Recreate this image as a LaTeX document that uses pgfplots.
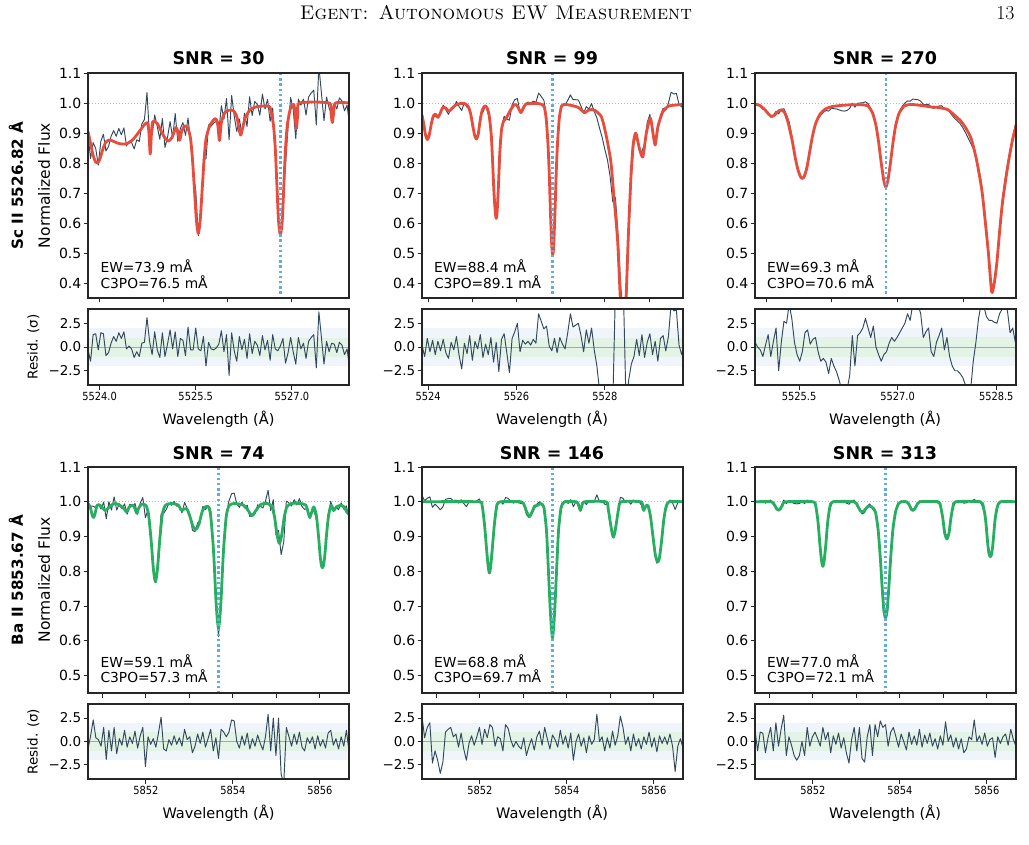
\documentclass[border=0pt]{standalone}
\usepackage{fontspec}
\usepackage{pgfplots}
\usepackage{pgfplotstable}
\pgfplotsset{compat=1.18}
\newfontfamily\dv{DejaVu Sans}
\newfontfamily\dvc[FakeStretch=0.88]{DejaVu Sans}
\definecolor{obs}{HTML}{34495E}
\definecolor{fitr}{HTML}{E74C3C}
\definecolor{fitg}{HTML}{27AE60}
\definecolor{lineb}{HTML}{5DADE2}
\definecolor{bandg}{HTML}{E3F4E6}
\definecolor{bandb}{HTML}{EFF5FB}

% ---------------- Panel A (Sc II, SNR 30) ----------------
\pgfplotstableread{
x m
5523.82 0.905
5523.86 0.865
5523.90 0.825
5523.94 0.803
5523.97 0.800
5524.00 0.810
5524.05 0.845
5524.10 0.870
5524.16 0.877
5524.24 0.870
5524.32 0.864
5524.42 0.864
5524.52 0.878
5524.62 0.905
5524.70 0.928
5524.75 0.934
5524.77 0.900
5524.79 0.830
5524.81 0.900
5524.83 0.938
5524.90 0.932
5525.00 0.890
5525.07 0.873
5525.13 0.885
5525.19 0.918
5525.22 0.905
5525.25 0.876
5525.28 0.905
5525.33 0.924
5525.38 0.915
5525.42 0.880
5525.45 0.810
5525.48 0.710
5525.51 0.610
5525.54 0.565
5525.57 0.610
5525.60 0.710
5525.63 0.810
5525.66 0.880
5525.72 0.925
5525.80 0.948
5525.84 0.935
5525.87 0.875
5525.90 0.935
5525.95 0.967
5526.02 0.976
5526.09 0.974
5526.14 0.955
5526.17 0.920
5526.20 0.893
5526.23 0.915
5526.28 0.955
5526.36 0.980
5526.46 0.988
5526.56 0.990
5526.62 0.989
5526.66 0.985
5526.71 0.930
5526.74 0.850
5526.765 0.730
5526.79 0.610
5526.82 0.560
5526.85 0.610
5526.875 0.730
5526.90 0.850
5526.93 0.930
5526.98 0.985
5527.03 0.995
5527.05 0.960
5527.07 0.915
5527.09 0.960
5527.12 1.000
5527.58 1.000
5527.61 0.965
5527.63 0.935
5527.65 0.965
5527.68 1.000
5527.90 1.000
}\tAm
\pgfplotstableread{
x o r
5523.82 .895 -0.3
5523.86 .815 -1.5
5523.90 .868 1.3
5523.94 .849 1.4
5523.98 .793 -0.3
5524.02 .872 1.5
5524.06 .896 1.4
5524.10 .840 -0.9
5524.14 .855 -0.6
5524.18 .889 0.4
5524.22 .908 1.1
5524.26 .889 0.6
5524.30 .915 1.5
5524.34 .894 0.9
5524.38 .917 1.6
5524.42 .857 -0.2
5524.46 .872 0.1
5524.50 .868 -0.2
5524.54 .847 -1.1
5524.58 .877 -0.5
5524.62 .872 -1.0
5524.66 .930 0.4
5524.70 .945 0.5
5524.74 1.035 3.1
5524.78 .885 0.6
5524.82 .894 -0.8
5524.86 .960 1.6
5524.90 .922 -0.3
5524.94 .879 -1.1
5524.98 .948 1.5
5525.02 .852 -1.0
5525.06 .885 0.3
5525.10 .938 1.8
5525.14 .883 -0.2
5525.18 .965 1.6
5525.22 .872 -1.0
5525.26 .915 0.9
5525.30 .935 0.7
5525.34 .892 -0.9
5525.38 .950 2.1
5525.42 .870 -0.3
5525.46 .767 -0.3
5525.50 .709 2.0
5525.54 .558 -0.2
5525.58 .630 -0.4
5525.62 .813 1.1
5525.66 .814 -2.0
5525.70 .927 0.5
5525.74 .923 -0.2
5525.78 .933 -0.3
5525.82 .939 -0.1
5525.86 .905 0.3
5525.90 .991 1.7
5525.94 .946 -0.5
5525.98 1.015 1.3
5526.02 .877 -3.0
5526.06 1.025 1.5
5526.10 .957 -0.4
5526.14 .905 -1.5
5526.18 .947 1.1
5526.22 .898 -0.3
5526.26 .966 0.8
5526.30 .922 -1.2
5526.34 1.021 1.4
5526.38 .958 -0.7
5526.42 1.005 0.6
5526.46 .995 0.2
5526.50 .959 -0.9
5526.54 1.030 1.2
5526.58 .980 -0.3
5526.62 1.012 0.7
5526.66 .939 -1.4
5526.70 .983 1.3
5526.74 .843 -0.2
5526.78 .647 -0.4
5526.82 .563 0.1
5526.86 .680 0.9
5526.90 .794 -1.7
5526.94 .920 -0.6
5526.98 1.018 1.0
5527.02 .978 -0.5
5527.06 .881 -1.8
5527.10 1.013 1.0
5527.14 .993 -0.2
5527.18 1.013 0.4
5527.22 .960 -1.2
5527.26 1.020 0.6
5527.30 1.033 1.0
5527.34 1.043 1.3
5527.38 .927 -2.2
5527.42 1.122 3.7
5527.46 1.033 1.0
5527.50 .941 -1.8
5527.54 1.020 0.6
5527.58 .983 -0.5
5527.62 .963 0.4
5527.66 1.000 0.3
5527.70 .980 -0.6
5527.74 1.017 0.5
5527.78 1.007 0.2
5527.82 .974 -0.8
5527.86 .993 -0.2
5527.90 .924 -2.3
}\tAo

% ---------------- Panel B (Sc II, SNR 99) ----------------
\pgfplotstableread{
x m
5523.86 .960
5523.90 .930
5523.94 .893
5523.98 .878
5524.02 .890
5524.07 .930
5524.12 .958
5524.17 .962
5524.22 .952
5524.27 .965
5524.33 .985
5524.40 .983
5524.47 .972
5524.54 .982
5524.62 .993
5524.72 .998
5524.82 .998
5524.90 .990
5524.96 .965
5525.01 .925
5525.05 .893
5525.09 .880
5525.13 .893
5525.17 .935
5525.22 .975
5525.28 .990
5525.33 .985
5525.38 .960
5525.43 .890
5525.46 .800
5525.49 .700
5525.52 .635
5525.54 .615
5525.56 .635
5525.59 .720
5525.62 .830
5525.66 .910
5525.71 .940
5525.77 .950
5525.84 .970
5525.90 .985
5525.96 .995
5526.02 .990
5526.07 .975
5526.10 .968
5526.14 .978
5526.20 .995
5526.30 .998
5526.50 .998
5526.62 .990
5526.67 .950
5526.71 .870
5526.74 .770
5526.77 .630
5526.80 .520
5526.82 .495
5526.84 .520
5526.87 .630
5526.90 .770
5526.93 .870
5526.97 .950
5527.02 .990
5527.10 .995
5527.20 .993
5527.30 .990
5527.40 .985
5527.48 .975
5527.55 .968
5527.62 .975
5527.70 .978
5527.78 .975
5527.86 .965
5527.92 .955
5527.98 .925
5528.06 .870
5528.14 .800
5528.21 .680
5528.29 .540
5528.35 .350
5528.41 .220
5528.48 .350
5528.53 .550
5528.59 .750
5528.64 .860
5528.70 .900
5528.78 .850
5528.86 .820
5528.94 .900
5529.03 .950
5529.09 .900
5529.14 .860
5529.20 .920
5529.31 .970
5529.45 .990
5529.77 .995
}\tBm
\pgfplotstableread{
x o r
5523.86 .962 0.2
5523.92 .900 -1.0
5523.98 .887 0.9
5524.04 .900 -0.5
5524.10 .955 0.7
5524.16 .954 -0.8
5524.22 .958 0.6
5524.28 .964 -0.4
5524.34 .993 0.8
5524.40 .977 -0.6
5524.46 .962 -1.2
5524.52 .984 0.5
5524.58 .985 -0.3
5524.64 1.005 1.1
5524.70 .988 -0.9
5524.76 .975 -2.3
5524.82 1.002 0.4
5524.88 .985 -0.7
5524.94 .984 1.2
5525.00 .918 -1.4
5525.06 .894 0.6
5525.12 .888 -0.2
5525.18 .956 1.3
5525.24 .969 -1.1
5525.30 .992 0.3
5525.36 .962 -0.8
5525.42 .915 1.0
5525.48 .717 -1.6
5525.54 .620 0.5
5525.60 .731 -2.6
5525.66 .918 0.8
5525.72 .956 1.4
5525.78 .946 -0.6
5525.84 .943 -2.7
5525.90 .994 0.9
5525.96 1.011 1.6
5526.02 1.015 2.5
5526.08 .968 -0.5
5526.14 .985 0.7
5526.20 .998 0.3
5526.26 1.003 0.6
5526.32 1.000 0.2
5526.38 1.006 0.8
5526.44 1.002 0.4
5526.50 1.033 3.5
5526.56 1.022 2.7
5526.62 1.009 1.9
5526.68 .952 2.2
5526.74 .771 0.1
5526.80 .516 -0.4
5526.86 .599 0.9
5526.92 .834 -0.6
5526.98 .970 1.0
5527.04 .994 0.3
5527.10 .993 -0.2
5527.16 1.009 1.5
5527.22 1.027 3.5
5527.28 1.011 2.1
5527.34 1.011 2.3
5527.40 1.010 2.5
5527.46 .990 1.2
5527.52 .966 -0.5
5527.58 .988 1.8
5527.64 .980 0.4
5527.70 .998 2.0
5527.76 .972 -0.3
5527.82 .950 -2.0
5527.88 .916 -4.6
5527.94 .885 -6
5528.00 .845 -6
5528.06 .810 -6
5528.12 .755 -6
5528.18 .670 -6
5528.24 .685 6
5528.30 .560 6
5528.36 .390 6
5528.42 .285 6
5528.48 .290 -6
5528.54 .555 -3.5
5528.60 .752 -1.8
5528.66 .865 -1.0
5528.72 .898 0.8
5528.78 .841 -0.9
5528.84 .838 1.3
5528.90 .864 -1.1
5528.96 .935 0.5
5529.02 .962 1.4
5529.08 .897 -0.8
5529.14 .866 0.6
5529.20 .905 -1.5
5529.26 .959 0.9
5529.32 .982 1.2
5529.38 .976 -0.4
5529.44 1.000 1.1
5529.50 1.036 4.5
5529.56 1.030 3.8
5529.62 1.032 3.9
5529.68 .996 0.2
5529.74 .987 -0.8
5529.80 .999 0.4
}\tBo

% ---------------- Panel C (Sc II, SNR 270) ----------------
\pgfplotstableread{
x m
5524.82 .997
5524.90 .992
5524.98 .978
5525.04 .962
5525.09 .955
5525.14 .962
5525.19 .974
5525.23 .977
5525.28 .968
5525.32 .945
5525.36 .910
5525.40 .870
5525.44 .820
5525.48 .780
5525.52 .755
5525.55 .749
5525.58 .755
5525.62 .785
5525.66 .835
5525.70 .885
5525.75 .930
5525.82 .963
5525.90 .980
5526.00 .988
5526.15 .992
5526.30 .994
5526.45 .994
5526.55 .990
5526.62 .965
5526.67 .925
5526.71 .870
5526.75 .800
5526.79 .740
5526.82 .720
5526.85 .740
5526.89 .800
5526.93 .870
5526.97 .925
5527.02 .965
5527.10 .990
5527.20 .995
5527.35 .992
5527.50 .987
5527.62 .985
5527.76 .978
5527.86 .960
5527.96 .940
5528.04 .915
5528.12 .880
5528.20 .810
5528.28 .710
5528.33 .610
5528.38 .500
5528.43 .370
5528.47 .400
5528.51 .470
5528.55 .570
5528.59 .660
5528.64 .740
5528.69 .810
5528.75 .880
5528.82 .940
}\tCm
\pgfplotstableread{
x o r
5524.83 .998 0.5
5524.87 .994 0.0
5524.91 .989 -0.3
5524.95 .979 -1.0
5524.99 .976 0.2
5525.03 .969 1.3
5525.07 .953 -1.0
5525.11 .960 0.6
5525.15 .972 2.0
5525.19 .964 -2.5
5525.23 .979 0.5
5525.27 .981 2.7
5525.31 .960 2.5
5525.35 .936 4.5
5525.39 .892 3.0
5525.43 .834 0.5
5525.47 .787 -0.8
5525.51 .754 -1.5
5525.55 .747 -0.5
5525.59 .768 1.5
5525.63 .804 1.8
5525.67 .848 0.3
5525.71 .898 0.8
5525.75 .934 1.0
5525.79 .948 -0.5
5525.83 .959 -1.5
5525.87 .969 -1.2
5525.91 .975 -1.6
5525.95 .973 -2.8
5525.99 .982 -1.2
5526.03 .981 -2.0
5526.07 .980 -2.6
5526.11 .977 -3.5
5526.15 .974 -4.5
5526.19 .973 -4.8
5526.23 .975 -4.5
5526.27 .982 -3.0
5526.31 .999 1.2
5526.35 .986 -2.0
5526.39 .999 1.2
5526.43 1.000 1.5
5526.47 1.001 2.0
5526.51 1.004 3.0
5526.55 .998 2.0
5526.59 .980 1.0
5526.63 .967 2.2
5526.67 .925 0.0
5526.71 .867 -0.8
5526.75 .794 -1.5
5526.79 .737 -0.8
5526.83 .723 -0.5
5526.87 .772 0.4
5526.91 .839 1.0
5526.95 .900 0.6
5526.99 .945 1.0
5527.03 .974 1.5
5527.07 .989 2.0
5527.11 1.000 2.5
5527.15 1.007 3.5
5527.19 1.006 2.8
5527.23 1.013 4.5
5527.27 1.012 4.6
5527.31 1.011 4.5
5527.35 1.006 3.5
5527.39 .995 1.0
5527.43 .995 1.6
5527.47 .996 2.0
5527.51 .985 -0.5
5527.55 .982 -1.0
5527.59 .987 0.5
5527.63 .990 1.2
5527.67 .991 2.0
5527.71 .979 -0.3
5527.75 .982 1.0
5527.79 .970 -1.0
5527.83 .958 -2.0
5527.87 .948 -2.5
5527.91 .940 -2.5
5527.95 .931 -2.8
5527.99 .918 -3.2
5528.03 .902 -4.0
5528.07 .884 -4.5
5528.11 .866 -4.5
5528.15 .848 -1.5
5528.19 .821 0.5
5528.23 .784 3.0
5528.27 .740 4.5
5528.31 .667 4.3
5528.35 .579 3.2
5528.39 .485 2.8
5528.43 .381 2.8
5528.47 .410 2.6
5528.51 .480 2.5
5528.55 .584 3.5
5528.59 .676 4.0
5528.63 .742 4.5
5528.67 .797 3.8
5528.71 .840 1.5
5528.75 .888 2.0
5528.79 .928 0.5
}\tCo

% ---------------- Panel D (Ba II, SNR 74) ----------------
\pgfplotstableread{
x m
5850.67 0.995
5850.72 0.985
5850.77 0.960
5850.80 0.955
5850.83 0.965
5850.88 0.990
5850.95 0.990
5851.02 0.980
5851.07 0.975
5851.12 0.980
5851.20 0.990
5851.30 0.995
5851.40 0.990
5851.50 0.980
5851.56 0.970
5851.62 0.985
5851.70 0.990
5851.75 0.980
5851.79 0.967
5851.83 0.980
5851.90 0.993
5852.00 0.990
5852.06 0.965
5852.11 0.905
5852.14 0.860
5852.17 0.810
5852.20 0.780
5852.22 0.770
5852.24 0.780
5852.27 0.810
5852.30 0.860
5852.33 0.905
5852.38 0.965
5852.45 0.990
5852.60 0.995
5852.75 0.990
5852.80 0.978
5852.84 0.975
5852.88 0.980
5852.95 0.978
5853.02 0.955
5853.08 0.930
5853.15 0.920
5853.22 0.935
5853.29 0.970
5853.36 0.985
5853.44 0.985
5853.49 0.960
5853.55 0.870
5853.58 0.800
5853.61 0.720
5853.64 0.665
5853.67 0.636
5853.70 0.665
5853.73 0.720
5853.76 0.800
5853.79 0.870
5853.85 0.960
5853.92 0.990
5854.05 0.995
5854.25 0.990
5854.35 0.975
5854.44 0.960
5854.53 0.975
5854.65 0.993
5854.80 0.995
5854.90 0.985
5854.96 0.955
5855.01 0.910
5855.04 0.890
5855.07 0.880
5855.10 0.890
5855.13 0.910
5855.18 0.955
5855.24 0.985
5855.35 0.995
5855.55 0.995
5855.68 0.990
5855.74 0.965
5855.77 0.955
5855.80 0.965
5855.86 0.985
5855.92 0.960
5855.97 0.900
5856.01 0.840
5856.04 0.815
5856.06 0.810
5856.08 0.815
5856.11 0.840
5856.15 0.900
5856.20 0.960
5856.26 0.990
5856.32 0.975
5856.38 0.985
5856.48 0.990
5856.56 0.985
5856.62 0.970
5856.67 0.965
}\tDm
\pgfplotstableread{
x o r
5850.67 .984 -0.8
5850.73 .988 0.6
5850.79 .987 2.3
5850.85 .983 0.4
5850.91 .993 0.2
5850.97 .979 -0.5
5851.03 .999 1.5
5851.09 .951 -1.9
5851.15 1.000 1.2
5851.21 .976 -1.0
5851.27 1.014 1.5
5851.33 .976 -1.3
5851.39 .994 0.3
5851.45 .980 -0.4
5851.51 .994 1.2
5851.57 .964 -0.6
5851.63 .993 0.5
5851.69 .987 -0.2
5851.75 .995 1.1
5851.81 .964 -0.7
5851.87 .996 0.6
5851.93 1.012 1.5
5851.99 .954 -2.7
5852.05 .977 0.5
5852.11 .901 -0.3
5852.17 .814 0.3
5852.23 .767 -0.6
5852.29 .857 0.9
5852.35 .965 2.6
5852.41 .967 -0.8
5852.47 .978 -1.0
5852.53 .996 0.2
5852.59 .990 -0.4
5852.65 1.001 0.6
5852.71 .987 -0.3
5852.77 .990 0.4
5852.83 .968 -0.5
5852.89 .998 1.3
5852.95 .981 0.2
5853.01 .965 0.5
5853.07 .918 -1.2
5853.13 .914 -0.5
5853.19 .939 0.8
5853.25 .947 -0.2
5853.31 .987 1.0
5853.37 .977 -0.6
5853.43 .989 0.3
5853.49 .978 1.3
5853.55 .857 -1.0
5853.61 .725 0.4
5853.67 .612 -1.8
5853.73 .738 1.3
5853.79 .884 1.0
5853.85 .967 0.5
5853.91 1.002 1.0
5853.97 1.023 2.3
5854.03 1.025 2.2
5854.09 .994 0.0
5854.15 .984 -0.7
5854.21 .999 0.6
5854.27 .982 -0.4
5854.33 .990 0.9
5854.39 .957 -0.8
5854.45 .965 0.3
5854.51 .965 -0.5
5854.57 .991 0.7
5854.63 .988 -0.2
5854.69 .982 -0.9
5854.75 1.002 0.5
5854.81 1.033 2.9
5854.87 .975 -1.0
5854.93 1.006 2.5
5854.99 .905 -1.5
5855.05 .918 2.5
5855.11 .848 -3.5
5855.17 .885 -4.5
5855.23 1.002 1.5
5855.29 .997 0.5
5855.35 .988 -0.5
5855.41 1.006 0.8
5855.47 .991 -0.3
5855.53 1.009 1.0
5855.59 .986 -0.6
5855.65 .978 -1.0
5855.71 .982 0.4
5855.77 .952 -0.2
5855.83 .982 0.5
5855.89 .964 -0.8
5855.95 .933 0.6
5856.01 .833 -0.5
5856.07 .815 0.2
5856.13 .861 -0.7
5856.19 .962 0.9
5856.25 1.001 1.2
5856.31 .972 -0.4
5856.37 .987 0.3
5856.43 .977 -0.8
5856.49 .997 0.5
5856.55 .979 -0.5
5856.61 .988 1.2
5856.67 .952 -1.0
}\tDo

% ---------------- Panel E (Ba II, SNR 146) ----------------
\pgfplotstableread{
x m
5850.67 1.000
5851.95 1.000
5852.05 0.990
5852.11 0.930
5852.15 0.870
5852.19 0.815
5852.22 0.795
5852.25 0.815
5852.29 0.870
5852.33 0.930
5852.39 0.990
5852.48 1.000
5852.95 1.000
5853.02 0.990
5853.08 0.970
5853.14 0.957
5853.20 0.970
5853.26 0.988
5853.33 0.990
5853.40 0.995
5853.47 0.985
5853.53 0.920
5853.57 0.820
5853.61 0.710
5853.64 0.645
5853.67 0.608
5853.70 0.645
5853.73 0.710
5853.77 0.820
5853.81 0.920
5853.87 0.985
5853.95 1.000
5854.22 1.000
5854.27 0.990
5854.31 0.975
5854.35 0.990
5854.40 1.000
5854.90 1.000
5854.95 0.980
5855.00 0.940
5855.04 0.910
5855.07 0.898
5855.10 0.910
5855.14 0.940
5855.19 0.980
5855.25 1.000
5855.70 1.000
5855.74 0.985
5855.77 0.975
5855.80 0.985
5855.86 0.990
5855.92 0.960
5855.98 0.900
5856.03 0.850
5856.07 0.830
5856.10 0.828
5856.13 0.840
5856.18 0.890
5856.23 0.950
5856.28 0.985
5856.35 1.000
5856.67 1.000
}\tEm
\pgfplotstableread{
x o r
5850.67 1.018 2.7
5850.73 1.003 0.4
5850.79 1.010 1.5
5850.85 1.014 2.0
5850.91 .984 -2.3
5850.97 .993 -1.0
5851.03 .986 -2.0
5851.09 .977 -3.4
5851.15 .985 -2.2
5851.21 1.007 1.0
5851.27 1.009 1.3
5851.33 1.010 1.5
5851.39 1.003 0.5
5851.45 1.005 0.8
5851.51 .996 -0.6
5851.57 1.006 0.9
5851.63 .995 -0.8
5851.69 .986 -2.0
5851.75 .999 -0.2
5851.81 1.004 0.6
5851.87 .997 -0.4
5851.93 1.003 0.5
5851.99 1.008 1.5
5852.05 .988 -0.3
5852.11 .939 1.3
5852.17 .843 0.4
5852.23 .812 1.8
5852.29 .880 1.5
5852.35 .947 -0.5
5852.41 .993 0.5
5852.47 1.002 0.3
5852.53 .993 -1.0
5852.59 1.012 1.8
5852.65 1.010 1.4
5852.71 1.001 0.2
5852.77 .996 -0.6
5852.83 1.000 0.0
5852.89 .997 -0.5
5852.95 .995 -0.8
5853.01 .994 0.4
5853.07 .963 -1.5
5853.13 .955 -0.5
5853.19 .970 0.3
5853.25 .979 -0.9
5853.31 .993 0.5
5853.37 1.000 1.1
5853.43 .989 -0.4
5853.49 .980 1.5
5853.55 .872 0.3
5853.61 .705 -0.8
5853.67 .613 0.7
5853.73 .711 0.2
5853.79 .866 -0.6
5853.85 .973 1.2
5853.91 .991 -0.3
5853.97 1.004 0.6
5854.03 .995 -0.7
5854.09 1.006 0.9
5854.15 .986 -2.0
5854.21 1.000 0.0
5854.27 .995 0.8
5854.33 .979 -0.5
5854.39 1.001 0.4
5854.45 .992 -1.2
5854.51 1.004 0.6
5854.57 .998 -0.3
5854.63 1.001 0.2
5854.69 1.020 2.9
5854.75 1.000 0.0
5854.81 1.003 0.5
5854.87 .993 -1.0
5854.93 .991 0.4
5854.99 .940 -0.7
5855.05 .909 1.1
5855.11 .912 -0.4
5855.17 .967 0.6
5855.23 1.013 2.7
5855.29 1.010 1.5
5855.35 .998 -0.3
5855.41 1.003 0.5
5855.47 .993 -1.0
5855.53 1.005 0.8
5855.59 .997 -0.5
5855.65 1.002 0.3
5855.71 .991 -0.8
5855.77 .981 0.5
5855.83 .986 -0.3
5855.89 .985 1.0
5855.95 .931 -0.6
5856.01 .868 0.4
5856.07 .823 -1.1
5856.13 .844 0.6
5856.19 .899 -0.2
5856.25 .968 0.5
5856.31 .990 -0.3
5856.37 1.005 0.8
5856.43 .997 -0.5
5856.49 .978 -3.2
5856.55 .997 -0.5
5856.61 1.002 0.3
5856.67 .995 -0.7
}\tEo

% ---------------- Panel F (Ba II, SNR 313) ----------------
\pgfplotstableread{
x m
5850.67 1.000
5851.05 1.000
5851.12 0.990
5851.17 0.979
5851.21 0.976
5851.25 0.979
5851.30 0.990
5851.38 1.000
5852.00 1.000
5852.07 0.985
5852.12 0.940
5852.16 0.880
5852.20 0.830
5852.23 0.814
5852.26 0.830
5852.30 0.880
5852.34 0.940
5852.39 0.985
5852.46 1.000
5852.95 1.000
5853.03 0.988
5853.09 0.974
5853.14 0.970
5853.19 0.976
5853.25 0.985
5853.30 0.988
5853.36 0.985
5853.44 0.970
5853.50 0.920
5853.55 0.840
5853.59 0.760
5853.63 0.690
5853.67 0.665
5853.71 0.690
5853.75 0.760
5853.79 0.840
5853.84 0.920
5853.90 0.970
5853.97 0.995
5854.05 1.000
5854.16 1.000
5854.22 0.990
5854.26 0.979
5854.30 0.975
5854.34 0.979
5854.39 0.990
5854.46 1.000
5854.88 1.000
5854.94 0.985
5854.99 0.950
5855.03 0.910
5855.08 0.893
5855.13 0.910
5855.17 0.950
5855.22 0.985
5855.28 1.000
5855.85 1.000
5855.92 0.985
5855.97 0.950
5856.02 0.880
5856.05 0.850
5856.08 0.842
5856.11 0.850
5856.14 0.880
5856.19 0.950
5856.24 0.985
5856.31 1.000
5856.67 1.000
}\tFm
\pgfplotstableread{
x o r
5850.67 1.004 1.2
5850.73 .997 -1.0
5850.79 1.003 1.0
5850.85 1.003 0.9
5850.91 .996 -1.2
5850.97 1.001 0.4
5851.03 1.005 1.5
5851.09 .991 -1.0
5851.15 .988 2.0
5851.21 .974 -0.5
5851.27 .987 1.3
5851.33 1.005 2.8
5851.39 .995 -1.5
5851.45 1.002 0.5
5851.51 .999 -0.4
5851.57 .995 -1.5
5851.63 .994 -2.0
5851.69 .995 -1.5
5851.75 1.000 0.0
5851.81 .995 -1.5
5851.87 1.005 1.5
5851.93 .998 -0.5
5851.99 1.002 0.5
5852.05 .993 1.0
5852.11 .951 0.3
5852.17 .863 -0.5
5852.23 .819 1.5
5852.29 .866 0.2
5852.35 .953 1.0
5852.41 .986 -1.2
5852.47 1.002 0.6
5852.53 .999 -0.3
5852.59 1.003 0.9
5852.65 .998 -0.7
5852.71 1.001 0.4
5852.77 .996 -1.2
5852.83 .993 -2.3
5852.89 1.001 0.2
5852.95 1.005 1.5
5853.01 .988 -1.0
5853.07 .983 1.5
5853.13 .965 -1.8
5853.19 .969 -2.2
5853.25 .987 0.5
5853.31 .994 1.8
5853.37 .979 -1.5
5853.43 .978 1.8
5853.49 .932 0.5
5853.55 .847 2.2
5853.61 .730 1.5
5853.67 .671 1.8
5853.73 .723 -0.5
5853.79 .843 1.0
5853.85 .935 1.5
5853.91 .975 0.5
5853.97 .993 -0.6
5854.03 1.003 0.8
5854.09 1.000 0.0
5854.15 .997 -0.9
5854.21 .995 1.0
5854.27 .977 -0.3
5854.33 .980 0.6
5854.39 .989 -0.4
5854.45 1.003 1.3
5854.51 .998 -0.6
5854.57 1.002 0.7
5854.63 .999 -0.2
5854.69 1.003 0.9
5854.75 .998 -0.5
5854.81 1.001 0.3
5854.87 .997 -0.8
5854.93 .990 0.6
5854.99 .949 -0.4
5855.05 .907 2.1
5855.11 .900 0.0
5855.17 .952 0.7
5855.23 .985 -0.6
5855.29 1.001 0.4
5855.35 .997 -0.8
5855.41 1.001 0.3
5855.47 .996 -1.2
5855.53 .997 -0.8
5855.59 1.002 0.5
5855.65 1.001 0.2
5855.71 1.007 2.3
5855.77 1.000 0.0
5855.83 1.002 0.6
5855.89 .989 -0.3
5855.95 .965 0.9
5856.01 .888 -0.5
5856.07 .844 0.2
5856.13 .871 0.4
5856.19 .945 -1.7
5856.25 .989 0.5
5856.31 .999 -0.2
5856.37 1.002 0.5
5856.43 1.003 0.8
5856.49 .999 -0.4
5856.55 1.004 1.3
5856.61 1.001 0.2
5856.67 .998 -0.5
}\tFo

\pgfplotsset{
  base/.style={scale only axis, anchor=north west,
    axis line style={line width=1.2pt, black!85},
    tick style={line width=0.9pt, black!85},
    tick align=outside, major tick length=4.5pt,
    xtick pos=bottom, ytick pos=left, axis on top,
    yticklabel style={font=\dv\fontsize{14}{16}\selectfont, inner sep=2pt}},
  mtop/.style={base, width=261pt, height=225pt, ymin=0.35, ymax=1.1,
    ytick={0.4,0.5,0.6,0.7,0.8,0.9,1.0,1.1},
    yticklabels={0.4,0.5,0.6,0.7,0.8,0.9,1.0,1.1}, xticklabels={}},
  mbot/.style={base, width=261pt, height=226pt, ymin=0.45, ymax=1.1,
    ytick={0.5,0.6,0.7,0.8,0.9,1.0,1.1},
    yticklabels={0.5,0.6,0.7,0.8,0.9,1.0,1.1}, xticklabels={},
    xtick={5851,5852,5853,5854,5855,5856}, xmin=5850.67, xmax=5856.67},
  res/.style={base, width=261pt, ymin=-4, ymax=4,
    ytick={-2.5,0,2.5}, yticklabels={−2.5,0.0,2.5},
    yticklabel style={font=\dv\fontsize{13.5}{15}\selectfont},
    xticklabel style={font=\dvc\fontsize{11.2}{13}\selectfont, inner sep=2.5pt}},
  rbot/.style={res, height=75pt, xmin=5850.67, xmax=5856.67,
    xtick={5852,5854,5856}, xticklabels={5852,5854,5856}},
  cont/.style={gray!55, line width=0.8pt, dash pattern=on 1pt off 2pt},
  cen/.style={lineb, line width=2.5pt, dash pattern=on 2.4pt off 2.8pt},
  ob/.style={obs, line width=0.95pt, line join=round},
  fr/.style={fitr, line width=2.8pt, line join=round, smooth, tension=0.4},
  fg/.style={fitg, line width=2.8pt, line join=round, smooth, tension=0.4},
}
\newcommand{\bands}[2]{%
  \fill[bandb] (axis cs:#1,-2) rectangle (axis cs:#2,2);
  \fill[bandg] (axis cs:#1,-1) rectangle (axis cs:#2,1);
  \addplot[gray!70, line width=1pt] coordinates {(#1,0) (#2,0)};}

\begin{document}
\begin{tikzpicture}
\path[use as bounding box] (0,0) rectangle (1029pt,-845pt);

% ===== Row 1 =====
\begin{axis}[mtop, at={(88pt,-73pt)}, xmin=5523.82, xmax=5527.89, xtick={5524,5525,5526,5527}]
\addplot[cont] coordinates {(5523,1) (5530,1)};
\addplot[ob] table[x=x,y=o] {\tAo};
\addplot[fr] table[x=x,y=m] {\tAm};
\addplot[cen] coordinates {(5526.82,0) (5526.82,2)};
\end{axis}
\begin{axis}[res, height=76pt, at={(88pt,-309pt)}, xmin=5523.82, xmax=5527.89,
  xtick={5524,5525.5,5527}, xticklabels={5524.0,5525.5,5527.0}]
\bands{5523}{5530}
\addplot[ob] table[x=x,y=r] {\tAo};
\end{axis}

\begin{axis}[mtop, at={(422pt,-73pt)}, xmin=5523.86, xmax=5529.77, xtick={5524,5525,5526,5527,5528,5529}]
\addplot[cont] coordinates {(5523,1) (5530,1)};
\addplot[ob] table[x=x,y=o] {\tBo};
\addplot[fr] table[x=x,y=m] {\tBm};
\addplot[cen] coordinates {(5526.82,0) (5526.82,2)};
\end{axis}
\begin{axis}[res, height=76pt, at={(422pt,-309pt)}, xmin=5523.86, xmax=5529.77,
  xtick={5524,5526,5528}, xticklabels={5524,5526,5528}]
\bands{5523}{5530}
\addplot[ob] table[x=x,y=r] {\tBo};
\end{axis}

\begin{axis}[mtop, at={(755pt,-73pt)}, xmin=5524.83, xmax=5528.80, xtick={5525,5526,5527,5528}]
\addplot[cont] coordinates {(5523,1) (5530,1)};
\addplot[ob] table[x=x,y=o] {\tCo};
\addplot[fr] table[x=x,y=m] {\tCm};
\addplot[cen] coordinates {(5526.82,0) (5526.82,2)};
\end{axis}
\begin{axis}[res, height=76pt, at={(755pt,-309pt)}, xmin=5524.83, xmax=5528.80,
  xtick={5525.5,5527,5528.5}, xticklabels={5525.5,5527.0,5528.5}]
\bands{5523}{5530}
\addplot[ob] table[x=x,y=r] {\tCo};
\end{axis}

% ===== Row 2 =====
\begin{axis}[mbot, at={(88pt,-467pt)}]
\addplot[cont] coordinates {(5850,1) (5857,1)};
\addplot[ob] table[x=x,y=o] {\tDo};
\addplot[fg] table[x=x,y=m] {\tDm};
\addplot[cen] coordinates {(5853.67,0) (5853.67,2)};
\end{axis}
\begin{axis}[rbot, at={(88pt,-704pt)}]
\bands{5850}{5857}
\addplot[ob] table[x=x,y=r] {\tDo};
\end{axis}

\begin{axis}[mbot, at={(422pt,-467pt)}]
\addplot[cont] coordinates {(5850,1) (5857,1)};
\addplot[ob] table[x=x,y=o] {\tEo};
\addplot[fg] table[x=x,y=m] {\tEm};
\addplot[cen] coordinates {(5853.67,0) (5853.67,2)};
\end{axis}
\begin{axis}[rbot, at={(422pt,-704pt)}]
\bands{5850}{5857}
\addplot[ob] table[x=x,y=r] {\tEo};
\end{axis}

\begin{axis}[mbot, at={(755pt,-467pt)}]
\addplot[cont] coordinates {(5850,1) (5857,1)};
\addplot[ob] table[x=x,y=o] {\tFo};
\addplot[fg] table[x=x,y=m] {\tFm};
\addplot[cen] coordinates {(5853.67,0) (5853.67,2)};
\end{axis}
\begin{axis}[rbot, at={(755pt,-704pt)}]
\bands{5850}{5857}
\addplot[ob] table[x=x,y=r] {\tFo};
\end{axis}

% ===== Text =====
\node[anchor=base, font=\fontsize{19.8}{22}\selectfont] at (496pt,-20pt) {\textsc{Egent: Autonomous EW Measurement}};
\node[anchor=base east, font=\fontsize{19.8}{22}\selectfont] at (1018pt,-20pt) {13};

\begin{scope}[font=\dv\bfseries\fontsize{17.5}{20}\selectfont]
\node[anchor=base] at (218.5pt,-65pt) {SNR = 30};
\node[anchor=base] at (552pt,-65pt) {SNR = 99};
\node[anchor=base] at (885pt,-65pt) {SNR = 270};
\node[anchor=base] at (218.5pt,-459.5pt) {SNR = 74};
\node[anchor=base] at (552pt,-459.5pt) {SNR = 146};
\node[anchor=base] at (885pt,-459.5pt) {SNR = 313};
\end{scope}

\node[rotate=90, font=\dv\bfseries\fontsize{15.2}{17}\selectfont] at (16pt,-185.5pt) {Sc II 5526.82 Å};
\node[rotate=90, font=\dv\bfseries\fontsize{15.2}{17}\selectfont] at (16pt,-580pt) {Ba II 5853.67 Å};

\begin{scope}[font=\dv\fontsize{15.5}{18}\selectfont]
\node[rotate=90] at (44pt,-185.5pt) {Normalized Flux};
\node[rotate=90] at (44pt,-580pt) {Normalized Flux};
\end{scope}
\begin{scope}[font=\dv\fontsize{13.5}{15}\selectfont]
\node[rotate=90] at (33.5pt,-347pt) {Resid. (σ)};
\node[rotate=90] at (33.5pt,-741.5pt) {Resid. (σ)};
\end{scope}
\begin{scope}[font=\dv\fontsize{14.5}{17}\selectfont]
\node[anchor=base] at (218.5pt,-424pt) {Wavelength (Å)};
\node[anchor=base] at (552pt,-424pt) {Wavelength (Å)};
\node[anchor=base] at (885pt,-424pt) {Wavelength (Å)};
\node[anchor=base] at (218.5pt,-818pt) {Wavelength (Å)};
\node[anchor=base] at (552pt,-818pt) {Wavelength (Å)};
\node[anchor=base] at (885pt,-818pt) {Wavelength (Å)};
\end{scope}

\begin{scope}[font=\dv\fontsize{13.8}{16}\selectfont]
\node[anchor=base west] at (97pt,-273pt) {EW=73.9 mÅ};
\node[anchor=base west] at (97pt,-288.5pt) {C3PO=76.5 mÅ};
\node[anchor=base west] at (430.5pt,-273pt) {EW=88.4 mÅ};
\node[anchor=base west] at (430.5pt,-288.5pt) {C3PO=89.1 mÅ};
\node[anchor=base west] at (763.5pt,-273pt) {EW=69.3 mÅ};
\node[anchor=base west] at (763.5pt,-288.5pt) {C3PO=70.6 mÅ};
\node[anchor=base west] at (97pt,-667pt) {EW=59.1 mÅ};
\node[anchor=base west] at (97pt,-682.5pt) {C3PO=57.3 mÅ};
\node[anchor=base west] at (430.5pt,-667pt) {EW=68.8 mÅ};
\node[anchor=base west] at (430.5pt,-682.5pt) {C3PO=69.7 mÅ};
\node[anchor=base west] at (763.5pt,-667pt) {EW=77.0 mÅ};
\node[anchor=base west] at (763.5pt,-682.5pt) {C3PO=72.1 mÅ};
\end{scope}
\end{tikzpicture}
\end{document}
